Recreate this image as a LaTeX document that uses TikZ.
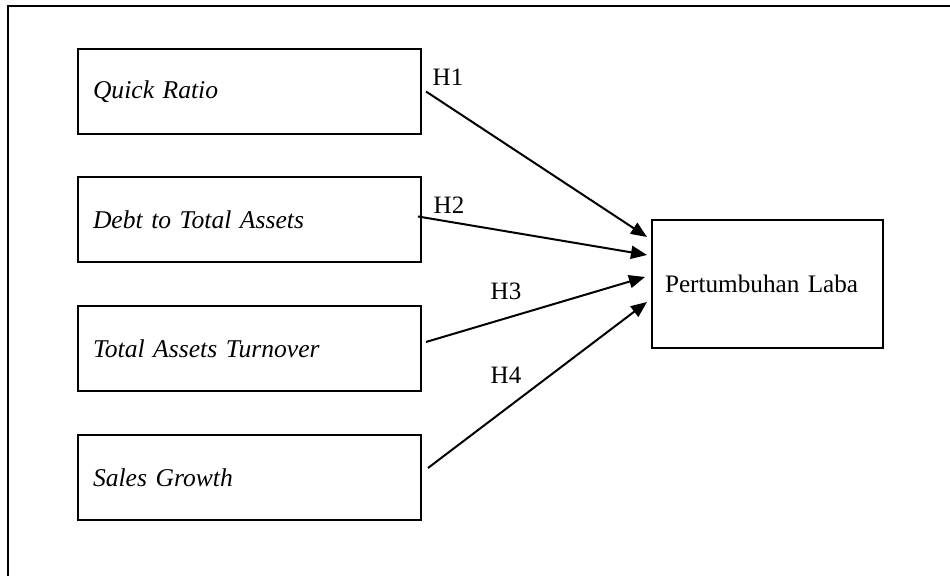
\documentclass[tikz,border=0pt]{standalone}
\usepackage{fontspec}
\setmainfont{Liberation Serif}
\usetikzlibrary{arrows.meta}

\begin{document}
\begin{tikzpicture}[x=25pt, y=25pt,
        varbox/.style={draw, line width=1pt, minimum height=42.5pt, text width=156.5pt,
            inner xsep=7.5pt, align=left, font=\fontsize{12.8}{15}\selectfont\itshape},
        depbox/.style={draw, line width=1pt, minimum height=64pt, text width=102.5pt,
            inner xsep=6.5pt, align=left, font=\fontsize{12.6}{15}\selectfont},
        hyp/.style={font=\fontsize{12.5}{14}\selectfont},
        link/.style={-{Triangle[length=8pt,width=6.5pt]}, line width=1pt}]
        \useasboundingbox (0,0) rectangle (19,11.52);

        % Frame (cut off at right and bottom)
        \draw[line width=1pt] (19,11.4) -- (0.16,11.4) -- (0.16,0);

        % Independent variables
        \node[varbox] (qr) at (4.99, 9.69) {Quick Ratio};
        \node[varbox] (dta) at (4.99, 7.13) {Debt to Total Assets};
        \node[varbox] (tato) at (4.99, 4.54) {Total Assets Turnover};
        \node[varbox] (sg) at (4.99, 1.96) {Sales Growth};

        % Dependent variable
        \node[depbox] (pl) at (15.35, 5.84) {Pertumbuhan Laba};

        % Hypotheses
        \draw[link] ([xshift=2pt]qr.east) -- ([xshift=-2pt, yshift=23.5pt]pl.west);
        \draw[link] ([xshift=-2pt, yshift=1.5pt]dta.east) -- ([xshift=-2pt, yshift=14.5pt]pl.west);
        \draw[link] ([xshift=2pt, yshift=3.5pt]tato.east) -- ([xshift=-3pt, yshift=3.5pt]pl.west);
        \draw[link] ([xshift=3pt, yshift=5pt]sg.east) -- ([xshift=-2pt, yshift=-9pt]pl.west);

        \node[hyp] (h1) at (8.96, 9.98) {H1};
        \node[hyp] (h2) at (8.98, 7.42) {H2};
        \node[hyp] (h3) at (10.12, 5.70) {H3};
        \node[hyp] (h4) at (10.12, 4.02) {H4};
    \end{tikzpicture}
\end{document}
